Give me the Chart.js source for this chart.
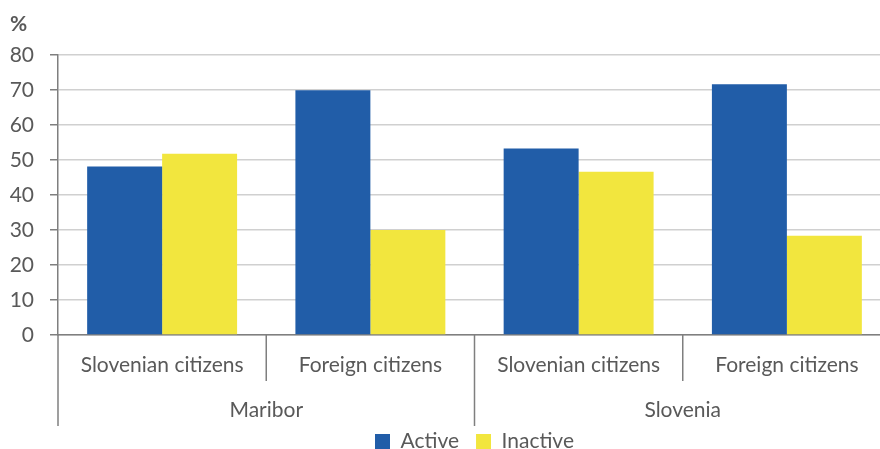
<!DOCTYPE html>
<html>
<head>
<meta charset="utf-8">
<script src="https://cdn.jsdelivr.net/npm/chart.js@4"></script>
<style>
  html, body { margin: 0; padding: 0; background: #fff; }
  #wrap { width: 880px; height: 449px; overflow: hidden; }
</style>
</head>
<body>
<div id="wrap"><canvas id="myChart" width="891" height="462"></canvas></div>
<script>
var categories = ["Slovenian citizens", "Foreign citizens", "Slovenian citizens", "Foreign citizens"];
var groups = ["Maribor", "Slovenia"];
var active = [48.2, 70.0, 53.3, 71.7];
var inactive = [51.8, 30.0, 46.7, 28.4];
var yTicks = [0, 10, 20, 30, 40, 50, 60, 70, 80];

var textColor = '#595959';
var axisColor = '#7f7f7f';
var font = { family: 'Lato', size: 21 };

// separators under the category axis (short within a group, long between groups)
var separators = {
    id: 'separators',
    afterDraw: function(chart) {
        var x = chart.scales.x;
        var ctx = chart.ctx;
        var half = (x.getPixelForValue(1) - x.getPixelForValue(0)) / 2;
        var base = chart.chartArea.bottom;
        ctx.save();
        ctx.strokeStyle = axisColor;
        ctx.lineWidth = 1.5;
        for (var i = 0; i <= categories.length; i++) {
            var px = x.getPixelForValue(0) - half + i * 2 * half;
            var end = (i % 2 === 0) ? base + 91 : base + 46;
            ctx.beginPath();
            ctx.moveTo(px, base);
            ctx.lineTo(px, end);
            ctx.stroke();
        }
        ctx.restore();
    }
};

function fixAxis(h) {
    return function(axis) {
        axis.paddingLeft = 0;
        axis.paddingRight = 0;
        axis.height = h;
        // group labels run into the legend box, don't clip them
        axis._computeLabelArea = function() { return undefined; };
    };
}

var ctx = document.getElementById('myChart').getContext('2d');
var myChart = new Chart(ctx, {
    type: 'bar',
    data: {
        labels: categories,
        datasets: [{
            label: 'Active',
            data: active,
            backgroundColor: '#215da8',
            xAxisID: 'x'
        }, {
            label: 'Inactive',
            data: inactive,
            backgroundColor: '#f2e63e',
            xAxisID: 'x'
        }]
    },
    options: {
        responsive: false,
        animation: false,
        categoryPercentage: 0.72,
        barPercentage: 1.0,
        layout: { padding: { left: 10, right: 0, top: 0, bottom: 0 } },
        plugins: {
            title: {
                display: true,
                text: '%',
                align: 'start',
                color: textColor,
                font: font,
                padding: { top: 12, bottom: 18 }
            },
            legend: {
                position: 'bottom',
                fullSize: false,
                labels: {
                    boxWidth: 15,
                    boxHeight: 15,
                    padding: 17,
                    color: textColor,
                    font: font
                }
            },
            tooltip: { enabled: false }
        },
        scales: {
            x: {
                grid: { display: false, drawTicks: false },
                border: { color: axisColor, width: 1.5 },
                ticks: { color: textColor, font: font, padding: 18 },
                afterFit: fixAxis(46)
            },
            x2: {
                type: 'category',
                labels: groups,
                position: 'bottom',
                offset: true,
                grid: { display: false, drawTicks: false },
                border: { display: false },
                ticks: { color: textColor, font: font, padding: 17 },
                afterFit: fixAxis(33)
            },
            y: {
                min: 0,
                max: 80,
                afterBuildTicks: function(axis) {
                    axis.ticks = yTicks.map(function(v) { return { value: v }; });
                },
                afterFit: function(axis) { axis.width = 48; },
                grid: {
                    color: '#d0d0d0',
                    lineWidth: 1.5,
                    tickColor: axisColor,
                    tickLength: 8
                },
                border: { color: axisColor, width: 1.5 },
                ticks: { color: textColor, font: font, padding: 16, autoSkip: false }
            }
        }
    },
    plugins: [separators]
});
</script>
</body>
</html>
